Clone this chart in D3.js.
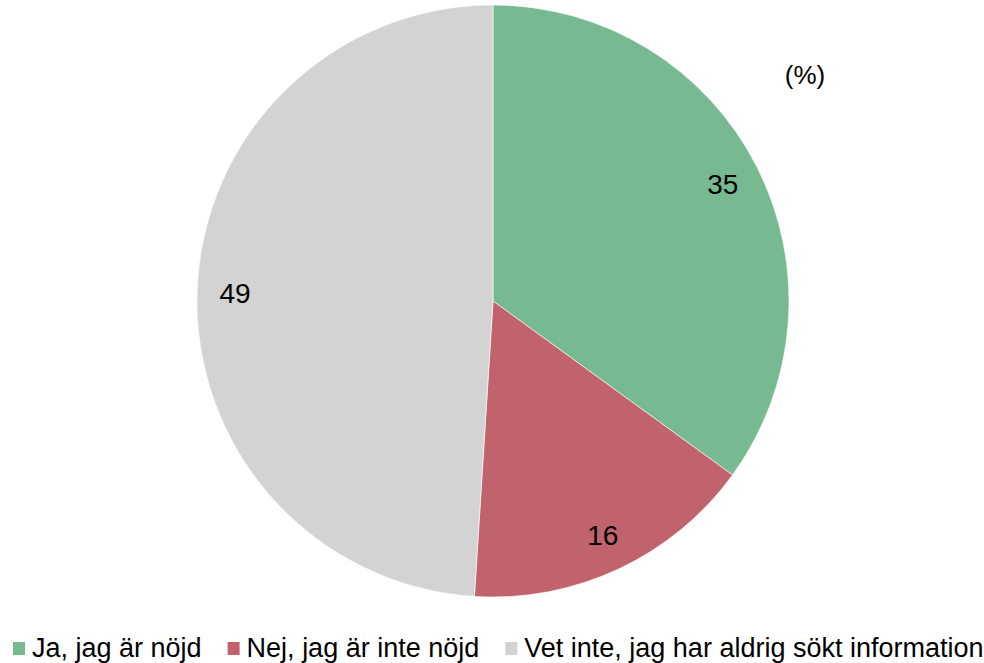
<!DOCTYPE html>
<html>
<head>
<meta charset="utf-8">
<script src="https://cdn.jsdelivr.net/npm/d3@7"></script>
<style>
  body { margin: 0; background: #fff; }
  svg { display: block; font-family: "Liberation Sans", Arial, sans-serif; }
</style>
</head>
<body>
<svg id="chart" width="984" height="663"></svg>
<script>
// data (percent)
const categories = ['Ja, jag är nöjd', 'Nej, jag är inte nöjd', 'Vet inte, jag har aldrig sökt information'];
const values = [35, 16, 49];
const colors = ['#77B990', '#C0636C', '#D3D3D3'];

const svg = d3.select('#chart');
const cx = 493, cy = 301, radius = 296;

const pie = d3.pie().sort(null).value(d => d.value);
const slices = pie(categories.map((c, i) => ({ name: c, value: values[i], color: colors[i] })));

const arc = d3.arc().innerRadius(0).outerRadius(radius);
const labelArc = d3.arc().innerRadius(258).outerRadius(258);

const g = svg.append('g').attr('transform', `translate(${cx},${cy})`);

g.selectAll('path')
  .data(slices)
  .join('path')
  .attr('d', arc)
  .attr('fill', d => d.data.color)
  .attr('stroke', '#ffffff')
  .attr('stroke-width', 0.6);

g.selectAll('text.lbl')
  .data(slices)
  .join('text')
  .attr('class', 'lbl')
  .attr('transform', d => `translate(${labelArc.centroid(d)})`)
  .attr('text-anchor', 'middle')
  .attr('dy', '0.36em')
  .attr('font-size', 28)
  .attr('fill', '#000')
  .text(d => d.data.value);

// unit note
svg.append('text')
  .attr('x', 805)
  .attr('y', 84)
  .attr('text-anchor', 'middle')
  .attr('font-size', 26)
  .attr('fill', '#000')
  .text('(%)');

// legend
const legend = svg.append('g').attr('transform', 'translate(13,642)');
let x = 0;
slices.forEach(d => {
  const item = legend.append('g').attr('transform', `translate(${x},0)`);
  item.append('rect')
    .attr('width', 12)
    .attr('height', 13)
    .attr('fill', d.data.color);
  const t = item.append('text')
    .attr('x', 19)
    .attr('y', 14.5)
    .attr('font-size', 27)
    .attr('fill', '#000')
    .text(d.data.name);
  x += 19 + t.node().getComputedTextLength() + 26;
});
</script>
</body>
</html>
